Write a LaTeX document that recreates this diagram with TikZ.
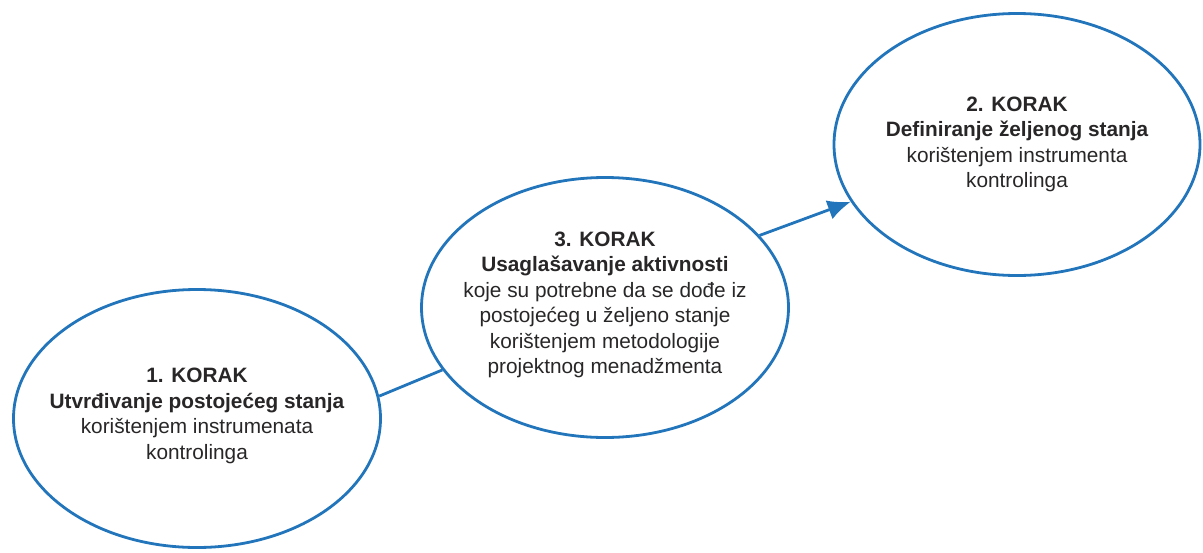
\documentclass[tikz,border=0pt]{standalone}
\usepackage{fontspec}
\setmainfont{Liberation Sans}
\usepackage{tikz}
\usetikzlibrary{positioning}
\usetikzlibrary{shapes.geometric}
\usetikzlibrary{arrows.meta}
\definecolor{korakblue}{RGB}{34,117,186}
\definecolor{koraktext}{RGB}{40,38,38}

\begin{document}
\begin{tikzpicture}[
            x = 1pt,
            y = -1pt,
            korak/.style = {
                draw = korakblue,
                ellipse,
                line width = 2.8pt,
                minimum width = #1,
                inner sep = 0pt
            },
            korak/.default = 367pt,
            korak text/.style = {
                align = center,
                text = koraktext,
                font = \fontsize{20.8}{25.5}\selectfont
            },
            link/.style = {
                draw = korakblue,
                line width = 2.8pt
            }
            ]
            \useasboundingbox (0,0) rectangle (1203,552);
            \node[korak=367pt, minimum height=258pt] (e1) at (197,418.5) {};
            \node[korak=367pt, minimum height=260pt] (e3) at (605,307.5) {};
            \node[korak=366pt, minimum height=262pt] (e2) at (1017,144.5) {};

            \node[korak text] (t1) at (197,416) {\textbf{1. KORAK}\\
                \textbf{Utvrđivanje postojećeg stanja}\\
                korištenjem instrumenata\\
                kontrolinga};
            \node[korak text] (t3) at (605,305) {\textbf{3. KORAK}\\
                \textbf{Usaglašavanje aktivnosti}\\
                koje su potrebne da se dođe iz\\
                postojećeg u željeno stanje\\
                korištenjem metodologije\\
                projektnog menadžmenta};
            \node[korak text] (t2) at (1017,144.5) {\textbf{2. KORAK}\\
                \textbf{Definiranje željenog stanja}\\
                korištenjem instrumenta\\
                kontrolinga};

            \draw[link] (e1.7) -- (e3.201);
            \draw[link, -{Latex[length=23pt, width=20pt]}] (e3.25) -- (e2.199);
        \end{tikzpicture}
\end{document}
